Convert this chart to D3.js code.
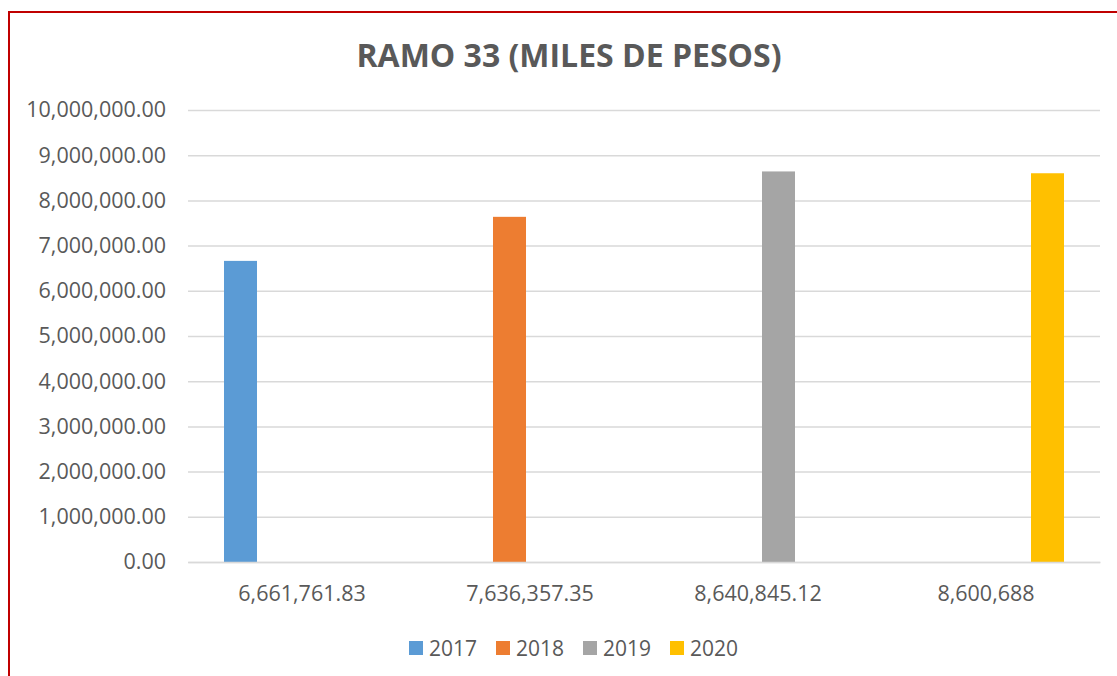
<!DOCTYPE html>
<html>
<head>
<meta charset="utf-8">
<script src="https://cdn.jsdelivr.net/npm/d3@7"></script>
<style>
  body { margin: 0; background: #fff; }
  svg text { font-family: "Open Sans", sans-serif; fill: #595959; }
</style>
</head>
<body>
<svg id="chart" width="1117" height="676"></svg>
<script>
// data
var categorias = ["6,661,761.83", "7,636,357.35", "8,640,845.12", "8,600,688"];
var series = ["2017", "2018", "2019", "2020"];
var valores = [6661761.83, 7636357.35, 8640845.12, 8600688];
var colores = ["#5B9BD5", "#ED7D31", "#A5A5A5", "#FFC000"];
var titulo = "RAMO 33 (MILES DE PESOS)";

var svg = d3.select("#chart");
var margin = {top: 110, right: 17, bottom: 114, left: 188};
var width = 1117 - margin.left - margin.right,
    height = 676 - margin.top - margin.bottom;

// red frame (clipped at right/bottom like the screenshot)
svg.append("path")
  .attr("d", "M9,676 V12 H1117")
  .attr("fill", "none")
  .attr("stroke", "#C00000")
  .attr("stroke-width", 2);

svg.append("text")
  .attr("x", 569)
  .attr("y", 67)
  .attr("text-anchor", "middle")
  .style("font-size", "32px")
  .style("font-weight", "bold")
  .text(titulo);

var g = svg.append("g").attr("transform", "translate(" + margin.left + "," + margin.top + ")");

var x0 = d3.scaleBand().domain(categorias).range([0, width]).padding(0);
var x1 = d3.scaleBand().domain(series).range([0, x0.bandwidth()])
  .paddingInner(0.195).paddingOuter(0.878);
var y = d3.scaleLinear().domain([0, 10000000]).range([height, 0]);
var color = d3.scaleOrdinal().domain(series).range(colores);
var fmt = d3.format(",.2f");

// gridlines + y labels
var yAxis = g.append("g")
  .call(d3.axisLeft(y).ticks(10).tickFormat(fmt).tickSize(-width).tickPadding(22));
yAxis.select(".domain").remove();
yAxis.selectAll(".tick line").attr("stroke", "#D9D9D9").attr("stroke-width", 1.5);
yAxis.selectAll(".tick text").style("font-size", "21.5px").attr("fill", "#595959");

// bars: each year sits in its own category
var datos = categorias.map(function(c, i) { return {cat: c, serie: series[i], valor: valores[i]}; });
g.selectAll("rect.bar")
  .data(datos)
  .enter().append("rect")
  .attr("class", "bar")
  .attr("x", function(d) { return x0(d.cat) + x1(d.serie); })
  .attr("width", x1.bandwidth())
  .attr("y", function(d) { return y(d.valor); })
  .attr("height", function(d) { return height - y(d.valor); })
  .attr("fill", function(d) { return color(d.serie); });

// category axis
var xAxis = g.append("g")
  .attr("transform", "translate(0," + height + ")")
  .call(d3.axisBottom(x0).tickSize(0).tickPadding(24));
xAxis.select(".domain").attr("stroke", "#D9D9D9").attr("stroke-width", 1.5);
xAxis.selectAll(".tick text").style("font-size", "21.5px").attr("fill", "#595959");

// legend
var legend = svg.append("g").attr("transform", "translate(409,641)");
var lx = [0, 87, 174, 261];
var item = legend.selectAll("g")
  .data(series)
  .enter().append("g")
  .attr("transform", function(d, i) { return "translate(" + lx[i] + ",0)"; });
item.append("rect")
  .attr("width", 14).attr("height", 14)
  .attr("fill", function(d) { return color(d); });
item.append("text")
  .attr("x", 20).attr("y", 14.5)
  .style("font-size", "21px")
  .text(function(d) { return d; });
</script>
</body>
</html>
